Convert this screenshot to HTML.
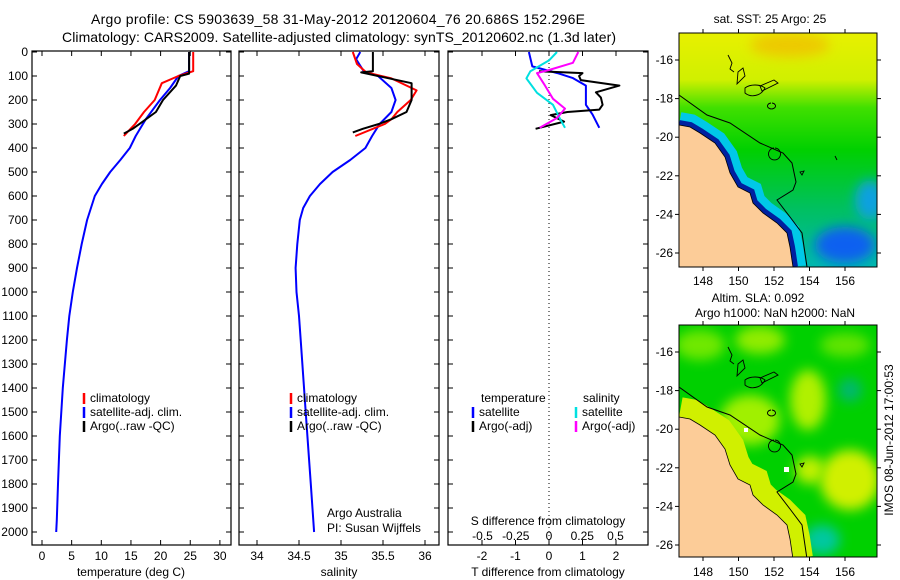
<!DOCTYPE html>
<html><head><meta charset="utf-8"><style>
html,body{margin:0;padding:0;background:#fff;}
svg{display:block;font-family:"Liberation Sans",sans-serif;}
text{fill:#000;}
</style></head><body>
<svg id="c" width="900" height="580" viewBox="0 0 900 580">
<defs>
<linearGradient id="sst" x1="0" y1="0" x2="0" y2="1">
<stop offset="0" stop-color="#e8f000"/><stop offset="0.2" stop-color="#d0f000"/><stop offset="0.32" stop-color="#40e000"/><stop offset="0.5" stop-color="#00d000"/><stop offset="0.75" stop-color="#00c060"/><stop offset="1" stop-color="#00b8b0"/>
</linearGradient>
<filter id="bl" x="-50%" y="-50%" width="200%" height="200%"><feGaussianBlur stdDeviation="6"/></filter>
<clipPath id="m1"><rect x="679" y="33" width="198" height="234"/></clipPath>
<clipPath id="m2"><rect x="679" y="325" width="198" height="232"/></clipPath>
<clipPath id="p1"><rect x="32" y="51" width="199" height="494"/></clipPath>
<clipPath id="p2"><rect x="239" y="51" width="200" height="494"/></clipPath>
<clipPath id="p3"><rect x="448" y="51" width="200" height="494"/></clipPath>
</defs>
<text x="338" y="24" font-size="14" text-anchor="middle" textLength="494">Argo profile: CS 5903639_58 31-May-2012 20120604_76 20.686S 152.296E</text>
<text x="339" y="42" font-size="14" text-anchor="middle" textLength="554">Climatology: CARS2009. Satellite-adjusted climatology: synTS_20120602.nc (1.3d later)</text>

<g id="panels"></g>

<!-- Map 1 -->
<g>
<g clip-path="url(#m1)">
<rect x="679" y="33" width="198" height="234" fill="url(#sst)"/>
<ellipse cx="790" cy="45" rx="40" ry="12" fill="#f0c000" filter="url(#bl)" opacity="0.8"/>
<ellipse cx="845" cy="245" rx="30" ry="18" fill="#1060f0" filter="url(#bl)"/>
<ellipse cx="870" cy="200" rx="15" ry="20" fill="#10a0e0" filter="url(#bl)"/>
<polyline points="679,125 690,127 700,133 715,143 725,157 730,173 738,187 750,193 753,203 763,213 777,223 787,233 790,247 793,267" fill="none" stroke="#00c8e8" stroke-width="26"/>
<polyline points="679,125 690,127 700,133 715,143 725,157 730,173 738,187 750,193 753,203 763,213 777,223 787,233 790,247 793,267" fill="none" stroke="#0020a0" stroke-width="10"/>
<polygon points="679,125 690,127 700,133 715,143 725,157 730,173 738,187 750,193 753,203 763,213 777,223 787,233 790,247 793,267 679,267" fill="#fccc98" stroke="#000" stroke-width="0.8"/>
<polyline points="679,95 707,115 730,123 760,143 783,153 792,163 796,182 793,190 777,200 790,217 802,233 807,267" fill="none" stroke="#000" stroke-width="1"/>
<path d="M728,55 l4,8 -2,6 4,3 M738,72 l5,-4 2,8 -8,8 z M745,88 c5,-4 15,-4 20,0 -4,8 -14,10 -20,5 z M760,86 l14,-6 4,3 -16,8 z M771,103 a4,3 0 1 0 1,0 M774,148 a6,6 0 1 0 1,0 M800,172 l4,-1 -2,4z M835,156 l2,4" fill="none" stroke="#000" stroke-width="0.9"/>
</g>
<rect x="679" y="33" width="198" height="234" fill="none" stroke="#000"/>
<text x="770" y="23" font-size="12" text-anchor="middle">sat. SST: 25 Argo: 25</text>
</g>

<!-- Map 2 -->
<g>
<g clip-path="url(#m2)">
<rect x="679" y="325" width="198" height="232" fill="#00d000"/>
<ellipse cx="700" cy="345" rx="25" ry="15" fill="#70e800" filter="url(#bl)"/>
<ellipse cx="760" cy="340" rx="25" ry="14" fill="#90ec00" filter="url(#bl)"/>
<ellipse cx="845" cy="345" rx="25" ry="12" fill="#60e400" filter="url(#bl)"/>
<ellipse cx="750" cy="420" rx="30" ry="25" fill="#a0f000" filter="url(#bl)"/>
<ellipse cx="808" cy="400" rx="18" ry="30" fill="#b0f000" filter="url(#bl)"/>
<ellipse cx="850" cy="480" rx="30" ry="30" fill="#d0f000" filter="url(#bl)"/>
<ellipse cx="810" cy="470" rx="15" ry="14" fill="#c0f000" filter="url(#bl)"/>
<ellipse cx="822" cy="540" rx="18" ry="15" fill="#00c8a0" filter="url(#bl)"/>
<ellipse cx="850" cy="390" rx="12" ry="12" fill="#00b870" filter="url(#bl)"/>
<polyline points="679,417 690,419 700,425 715,435 725,449 730,465 738,479 750,485 753,495 763,505 777,515 787,525 790,539 793,559" fill="none" stroke="#d0f000" stroke-width="40"/>
<polygon points="679,417 690,419 700,425 715,435 725,449 730,465 738,479 750,485 753,495 763,505 777,515 787,525 790,539 793,559 679,559" fill="#fccc98" stroke="#000" stroke-width="0.8"/>
<polyline points="679,387 707,407 730,415 760,435 783,445 792,455 796,474 793,482 777,492 790,509 802,525 807,559" fill="none" stroke="#000" stroke-width="1"/>
<path d="M728,347 l4,8 -2,6 4,3 M738,364 l5,-4 2,8 -8,8 z M745,380 c5,-4 15,-4 20,0 -4,8 -14,10 -20,5 z M760,378 l14,-6 4,3 -16,8 z M771,410 a4,3 0 1 0 1,0 M774,440 a6,6 0 1 0 1,0 M800,464 l4,-1 -2,4z" fill="none" stroke="#000" stroke-width="0.9"/>
<rect x="744" y="428" width="4" height="4" fill="#fff"/><rect x="784" y="467" width="5" height="5" fill="#fff"/>
</g>
<rect x="679" y="325" width="198" height="232" fill="none" stroke="#000"/>
<text x="758" y="302" font-size="12" text-anchor="middle">Altim. SLA: 0.092</text>
<text x="775" y="317" font-size="12" text-anchor="middle">Argo h1000: NaN h2000: NaN</text>
</g>
<text transform="translate(893,440) rotate(-90)" font-size="12" text-anchor="middle">IMOS 08-Jun-2012 17:00:53</text>
</svg>
<script>
// ---- data ----
const depthTicks=[0,100,200,300,400,500,600,700,800,900,1000,1100,1200,1300,1400,1500,1600,1700,1800,1900,2000];
const tempTicks=[0,5,10,15,20,25,30];
const salTicks=[34,34.5,35,35.5,36];
const salTickLabels=["34","34.5","35","35.5","36"];
const tdiffTicks=[-2,-1,0,1,2];
const sdiffTicks=[-0.5,-0.25,0,0.25,0.5];
const sdiffLabels=["-0.5","-0.25","0","0.25","0.5"];

const tClimD=[0,80,100,130,200,250,300,350];
const tClimV=[25.5,25.5,23,20.2,19,17.2,15.7,13.8];
const tSatD=[0,80,100,150,200,280,350,400,450,500,550,600,700,800,900,1000,1100,1200,1400,1600,1800,1950,2000];
const tSatV=[24.8,24.8,23,21.6,19.9,17.5,15.8,14.8,13.2,11.5,10.1,8.9,7.6,6.7,5.9,5.2,4.6,4.2,3.5,3.0,2.7,2.5,2.4];
const tArgoD=[0,90,100,140,200,250,290,320,340];
const tArgoV=[24.8,24.8,23.3,22.6,20.4,19.2,17,15.3,13.8];

const sClimD=[0,50,85,110,160,200,250,280,300,350];
const sClimV=[35.14,35.19,35.3,35.6,35.9,35.83,35.67,35.6,35.52,35.17];
const sSatD=[0,30,80,100,150,200,250,300,350,400,450,500,550,600,650,700,800,900,1000,1100,1200,1500,1800,2000];
const sSatV=[35.23,35.18,35.27,35.44,35.6,35.65,35.6,35.46,35.37,35.29,35.11,34.9,34.75,34.63,34.55,34.51,34.48,34.46,34.47,34.5,34.52,34.58,34.64,34.68];
const sArgoD=[0,80,85,130,200,250,280,300,320,335];
const sArgoV=[35.38,35.38,35.24,35.84,35.84,35.78,35.6,35.45,35.26,35.14];

const dtSatD=[0,60,88,108,140,220,260,316];
const dtSatV=[-0.6,-0.5,0.25,0.7,1.1,1.1,1.3,1.5];
const dtArgoD=[80,88,100,117,140,168,190,220,240,250,263,290,320];
const dtArgoV=[-0.3,1.0,0.9,0.95,2.1,1.4,1.55,1.6,1.5,0.55,0.05,0.45,-0.4];
const dsSatD=[0,35,80,110,170,220,275,316];
const dsSatV=[0.06,0.0,-0.14,-0.17,-0.09,0.03,0.08,0.12];
const dsArgoD=[0,45,75,88,140,195,236,275,316];
const dsArgoV=[0.22,0.18,0.0,-0.09,-0.03,0.03,0.12,0.06,-0.07];

// ---- axes ----
const NS="http://www.w3.org/2000/svg";
const g=document.getElementById('panels');
const yD=d=>52+d*0.24;
const xT=t=>42+t*5.93;
const xS=s=>257+(s-34)*84;
const xDT=t=>549+t*33.5;
const xDS=s=>549+s*133;
function el(tag,attrs,parent){const e=document.createElementNS(NS,tag);for(const k in attrs)e.setAttribute(k,attrs[k]);(parent||g).appendChild(e);return e;}
function txt(x,y,s,size,anchor){const t=el('text',{x:x,y:y,'font-size':size,'text-anchor':anchor||'middle'});t.textContent=s;return t;}

const panels=[{x:32,w:199,clip:'p1',name:'temperature-panel'},{x:239,w:200,clip:'p2',name:'salinity-panel'},{x:448,w:200,clip:'p3',name:'difference-panel'}];
panels.forEach((p,i)=>{
  const r=el('rect',{x:p.x,y:51,width:p.w,height:494,fill:'none',stroke:'#000','stroke-width':1.2});
  
  
  depthTicks.forEach(d=>{
    el('line',{x1:p.x,x2:p.x+5,y1:yD(d),y2:yD(d),stroke:'#000'});
    el('line',{x1:p.x+p.w-5,x2:p.x+p.w,y1:yD(d),y2:yD(d),stroke:'#000'});
  });
});
depthTicks.forEach(d=>{const t=txt(28,yD(d)+4,String(d),12,'end');
  
  });
function xticks(ticks,labels,fx){ticks.forEach((v,i)=>{const x=fx(v);
  el('line',{x1:x,x2:x,y1:51,y2:56,stroke:'#000'});el('line',{x1:x,x2:x,y1:540,y2:545,stroke:'#000'});
  const t=txt(x,560,labels?labels[i]:String(v),12);
  
  });}
xticks(tempTicks,null,xT);xticks(salTicks,salTickLabels,xS);xticks(tdiffTicks,null,xDT);
sdiffTicks.forEach((v,i)=>{const t=txt(xDS(v),540,sdiffLabels[i],12);
  
  });
let t;
t=txt(131,576,'temperature (deg C)',12);
t=txt(339,576,'salinity',12);
t=txt(548,576,'T difference from climatology',12);
t=txt(548,525,'S difference from climatology',12);
t=txt(327,517,'Argo Australia',12,'start');
t=txt(327,532,'PI: Susan Wijffels',12,'start');
const z=el('line',{x1:549,x2:549,y1:51,y2:545,stroke:'#000','stroke-dasharray':'1,3'});



// ---- series ----
function series(D,V,fx,color,clip,name,w){
  const pts=D.map((d,i)=>fx(V[i]).toFixed(1)+','+yD(d).toFixed(1)).join(' ');
  const p=el('polyline',{points:pts,fill:'none',stroke:color,'stroke-width':w||2,'clip-path':'url(#'+clip+')','stroke-linejoin':'round'});
  
  
}
series(tSatD,tSatV,xT,'#0000ff','p1','temp-satellite-line');
series(tClimD,tClimV,xT,'#ff0000','p1','temp-climatology-line');
series(tArgoD,tArgoV,xT,'#000','p1','temp-argo-line');
series(sSatD,sSatV,xS,'#0000ff','p2','sal-satellite-line');
series(sClimD,sClimV,xS,'#ff0000','p2','sal-climatology-line');
series(sArgoD,sArgoV,xS,'#000','p2','sal-argo-line');
series(dtSatD,dtSatV,xDT,'#0000ff','p3','tdiff-satellite-line');
series(dtArgoD,dtArgoV,xDT,'#000','p3','tdiff-argo-line');
series(dsSatD,dsSatV,xDS,'#00e0e0','p3','sdiff-satellite-line');
series(dsArgoD,dsArgoV,xDS,'#ff00ff','p3','sdiff-argo-line');

// ---- legends ----
function leg(x,y,color,label,name){
  el('line',{x1:x,x2:x,y1:y-9,y2:y+2,stroke:color,'stroke-width':2.5});
  const t=txt(x+6,y,label,12,'start');
  
  
}
[84,291].forEach(x=>{
  leg(x,402,'#ff0000','climatology','legend-climatology');
  leg(x,416,'#0000ff','satellite-adj. clim.','legend-satellite-adj');
  leg(x,430,'#000','Argo(..raw -QC)','legend-argo');
});
t=txt(481,402,'temperature',12,'start');
t=txt(583,402,'salinity',12,'start');
leg(473,416,'#0000ff','satellite','legend-t-satellite');
leg(473,430,'#000','Argo(-adj)','legend-t-argo');
leg(576,416,'#00e0e0','satellite','legend-s-satellite');
leg(576,430,'#ff00ff','Argo(-adj)','legend-s-argo');

// ---- map axes ----
const lonTicks=[148,150,152,154,156];
const latTicks=[-16,-18,-20,-22,-24,-26];
const xLon=l=>703+(l-148)*17.75;
const yLat=(l,top)=>top+27+(-16-l)*19.3;
[[33,267,285],[325,557,576]].forEach(([top,bot,ly])=>{
  lonTicks.forEach(l=>{const x=xLon(l);
    el('line',{x1:x,x2:x,y1:top,y2:top-4,stroke:'#000'});el('line',{x1:x,x2:x,y1:bot,y2:bot+4,stroke:'#000'});
    const t=txt(x,ly,String(l),12);});
  latTicks.forEach(l=>{const y=yLat(l,top);
    el('line',{x1:675,x2:679,y1:y,y2:y,stroke:'#000'});el('line',{x1:877,x2:881,y1:y,y2:y,stroke:'#000'});
    const t=txt(673,y+4,String(l),12,'end');});
});
</script>
</body></html>
